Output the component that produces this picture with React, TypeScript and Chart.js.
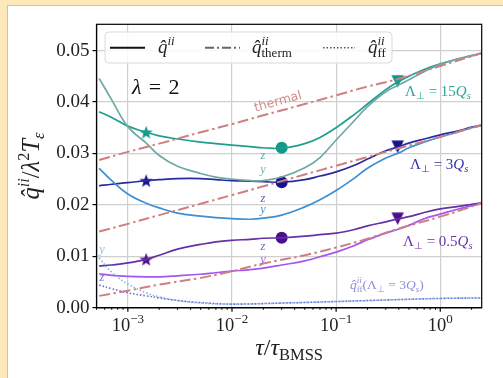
import React, { useEffect, useRef } from 'react';
import { Chart, registerables } from 'chart.js';
Chart.register(...registerables);

// ---------------- data ----------------
const TAU = [5.3e-4, 7e-4, 1e-3, 1.5e-3, 2e-3, 3e-3, 5e-3, 7e-3, 1e-2, 1.5e-2, 2e-2, 3e-2, 5e-2, 7e-2, 0.1, 0.15, 0.2, 0.3, 0.4, 0.5, 0.7, 1, 1.5, 2, 2.5];
const Q15_Z = [0.0381, 0.0370, 0.0353, 0.0341, 0.0334, 0.0328, 0.0322, 0.0319, 0.0316, 0.0313, 0.0311, 0.0310, 0.0319, 0.0331, 0.0350, 0.0376, 0.0396, 0.0424, 0.0440, 0.0450, 0.0463, 0.0474, 0.0484, 0.0490, 0.0495];
const Q15_Y = [0.0446, 0.0404, 0.0352, 0.0320, 0.0296, 0.0275, 0.0261, 0.0254, 0.0250, 0.0247, 0.0247, 0.0254, 0.0272, 0.0292, 0.0326, 0.0364, 0.0391, 0.0420, 0.0433, 0.0443, 0.0459, 0.0473, 0.0484, 0.0490, 0.0495];
const Q3_Z = [0.0237, 0.0240, 0.0243, 0.0247, 0.0249, 0.0251, 0.0251, 0.0249, 0.0247, 0.0246, 0.0245, 0.0244, 0.0249, 0.0256, 0.0264, 0.0277, 0.0289, 0.0305, 0.0313, 0.0320, 0.0328, 0.0336, 0.0344, 0.0351, 0.0355];
const Q3_Y = [0.0271, 0.0247, 0.0221, 0.0203, 0.0194, 0.0184, 0.0178, 0.0175, 0.0173, 0.0172, 0.0174, 0.0180, 0.0196, 0.0210, 0.0228, 0.0252, 0.0271, 0.0291, 0.0301, 0.0311, 0.0322, 0.0332, 0.0342, 0.0350, 0.0354];
const Q05_Z = [0.0081, 0.0083, 0.0087, 0.0094, 0.0102, 0.0114, 0.0123, 0.0128, 0.0131, 0.0133, 0.0135, 0.0136, 0.0139, 0.0142, 0.0145, 0.0152, 0.0159, 0.0167, 0.0173, 0.0177, 0.0185, 0.0192, 0.0197, 0.0201, 0.0204];
const Q05_Y = [0.0066, 0.0063, 0.0061, 0.0060, 0.0060, 0.0062, 0.0065, 0.0068, 0.0071, 0.0074, 0.0077, 0.0083, 0.0091, 0.0099, 0.0108, 0.0121, 0.0132, 0.0145, 0.0153, 0.0160, 0.0173, 0.0182, 0.0192, 0.0198, 0.0203];

const TAU_TH = [5.3e-4, 1e-3, 2e-3, 5e-3, 1e-2, 2e-2, 5e-2, 0.1, 0.2, 0.4, 1, 2.5];
const TH_15 = [0.0287, 0.0303, 0.0319, 0.0341, 0.0357, 0.0374, 0.0396, 0.0413, 0.0430, 0.0445, 0.0470, 0.0495];
const TH_3 = [0.0148, 0.0163, 0.0180, 0.0202, 0.0219, 0.0236, 0.0259, 0.0276, 0.0293, 0.0310, 0.0332, 0.0355];
const TH_05 = [0.0023, 0.0033, 0.0045, 0.0058, 0.0071, 0.0086, 0.0102, 0.0117, 0.0134, 0.0154, 0.0177, 0.0203];

const TAU_FF = [5.3e-4, 7e-4, 1e-3, 1.5e-3, 2e-3, 3e-3, 5e-3, 1e-2, 3e-2, 0.1, 0.3, 1, 2.5];
const FF_Y = [0.0097, 0.0069, 0.0046, 0.0029, 0.0021, 0.0014, 0.0009, 0.0007, 0.0009, 0.0012, 0.0015, 0.0018, 0.0019];
const FF_Z = [0.0044, 0.0037, 0.0029, 0.0023, 0.0019, 0.0014, 0.0010, 0.0007, 0.0009, 0.0012, 0.0015, 0.0018, 0.0019];

const STAR_X = 1.5e-3;
const STAR_Y = [0.0341, 0.0247, 0.0094];
const CIRC_X = 0.03;
const CIRC_Y = [0.0311, 0.0244, 0.0136];
const TRI_X = 0.39;
const TRI_Y = [0.0440, 0.0313, 0.0173];

const X_MIN = 5e-4;
const X_MAX = 2.5;
const Y_MAX = 0.0551;
const X_MAJOR_EXP = [-3, -2, -1, 0];
const Y_STEP = 0.01;

// ---------------- styles ----------------
const SERIF = '"Liberation Serif", "Times New Roman", serif';
const SANS = '"DejaVu Sans", sans-serif';
const C_TEAL_Z = '#1f9e8f';
const C_TEAL_Y = '#6fa9a6';
const C_NAVY_Z = '#2b2b9f';
const C_BLUE_Y = '#3d8fd1';
const C_PURP_Z = '#6631a6';
const C_VIOL_Y = '#a257ee';
const C_THERM = '#cf8080';
const C_FF_Y = '#7fb6e8';
const C_FF_Z = '#6a6ad2';
const M_COLORS = ['#12978a', '#16128c', '#4c0f8c'];

type Seg = { t: string; s: number; dy?: number; it?: boolean; stay?: boolean; fam?: string };

function fontOf(s: Seg) {
  return `${s.it ? 'italic ' : ''}${s.s}px ${s.fam || SERIF}`;
}

function layoutRich(ctx: CanvasRenderingContext2D, segs: Seg[]) {
  const out: { s: Seg; x: number }[] = [];
  let x = 0;
  let pending = 0;
  for (const s of segs) {
    ctx.font = fontOf(s);
    const w = ctx.measureText(s.t).width;
    out.push({ s, x });
    if (s.stay) pending = Math.max(pending, w);
    else {
      x += Math.max(w, pending);
      pending = 0;
    }
  }
  return { out, width: x };
}

function drawRich(ctx: CanvasRenderingContext2D, segs: Seg[], x: number, y: number, align: string, color: string) {
  const { out, width } = layoutRich(ctx, segs);
  const x0 = align === 'left' ? x : align === 'center' ? x - width / 2 : x - width;
  ctx.fillStyle = color;
  ctx.textBaseline = 'alphabetic';
  ctx.textAlign = 'left';
  for (const o of out) {
    ctx.font = fontOf(o.s);
    ctx.fillText(o.s.t, x0 + o.x, y + (o.s.dy || 0));
  }
}

function makeStar(color: string, r: number) {
  const c = document.createElement('canvas');
  const s = Math.ceil(r * 2 + 2);
  c.width = s;
  c.height = s;
  const g = c.getContext('2d')!;
  g.fillStyle = color;
  g.beginPath();
  for (let i = 0; i < 10; i++) {
    const rad = i % 2 === 0 ? r : r * 0.42;
    const a = -Math.PI / 2 + (i * Math.PI) / 5;
    g.lineTo(s / 2 + rad * Math.cos(a), s / 2 + 0.6 + rad * Math.sin(a));
  }
  g.closePath();
  g.fill();
  return c;
}

function makeTriDown(color: string, size: number) {
  const c = document.createElement('canvas');
  const s = Math.ceil(size + 2);
  c.width = s;
  c.height = s;
  const g = c.getContext('2d')!;
  g.fillStyle = color;
  g.beginPath();
  g.moveTo(s / 2 - size / 2, s / 2 - size / 2);
  g.lineTo(s / 2 + size / 2, s / 2 - size / 2);
  g.lineTo(s / 2, s / 2 + size / 2);
  g.closePath();
  g.fill();
  return c;
}

const isPow10 = (v: number) => Math.abs(Math.log10(v) - Math.round(Math.log10(v))) < 1e-6;

function xTickValues() {
  const out: number[] = [];
  for (let e = -4; e <= 0; e++) {
    for (let m = 1; m <= 9; m++) {
      const v = parseFloat((m * Math.pow(10, e)).toPrecision(6));
      if (v >= X_MIN && v <= X_MAX) out.push(v);
    }
  }
  return out;
}

const qhat: Seg = { t: 'q\u0302', s: 19, it: true };

const decor = {
  id: 'decor',
  afterDatasetsDraw(chart: any) {
    const { ctx, chartArea: a, scales } = chart;
    const xs = scales.x;
    ctx.save();
    // spines
    ctx.strokeStyle = '#000';
    ctx.lineWidth = 1.2;
    ctx.strokeRect(a.left, a.top, a.right - a.left, a.bottom - a.top);
    // x tick marks
    for (const t of xs.ticks) {
      const px = xs.getPixelForValue(t.value);
      const major = isPow10(t.value);
      ctx.lineWidth = major ? 1.2 : 0.9;
      ctx.beginPath();
      ctx.moveTo(px, a.bottom);
      ctx.lineTo(px, a.bottom + (major ? 4 : 2.2));
      ctx.stroke();
    }
    // x tick labels
    for (const e of X_MAJOR_EXP) {
      const px = xs.getPixelForValue(Math.pow(10, e));
      const exp = e < 0 ? '\u2212' + Math.abs(e) : String(e);
      drawRich(ctx, [{ t: '10', s: 18.5 }, { t: exp, s: 13, dy: -8 }], px, 331, 'center', '#222');
    }
    // axis labels
    drawRich(ctx, [{ t: '\u03c4', s: 24, it: true }, { t: '/', s: 24 }, { t: '\u03c4', s: 24, it: true }, { t: 'BMSS', s: 16.5, dy: 5 }], (a.left + a.right) / 2, 355, 'center', '#222');
    ctx.save();
    ctx.translate(39, (a.top + a.bottom) / 2);
    ctx.rotate(-Math.PI / 2);
    drawRich(ctx, [
      { t: 'q\u0302', s: 24.5, it: true }, { t: 'ii', s: 16.5, it: true, dy: -10 },
      { t: '/', s: 24.5 }, { t: '\u03bb', s: 24.5, it: true }, { t: '2', s: 16.5, dy: -10 },
      { t: 'T', s: 24.5, it: true }, { t: '\u03b5', s: 16.5, it: true, dy: 5 },
    ], 0, 0, 'center', '#222');
    ctx.restore();

    // lambda text
    drawRich(ctx, [{ t: '\u03bb', s: 22, it: true }, { t: '\u2004=\u20042', s: 22 }], 132, 94, 'left', '#111');

    // thermal
    ctx.save();
    ctx.translate(278, 102);
    ctx.rotate(-15.6 * Math.PI / 180);
    ctx.font = `12.5px ${SANS}`;
    ctx.fillStyle = '#d08a8a';
    ctx.textAlign = 'center';
    ctx.textBaseline = 'middle';
    ctx.fillText('thermal', 0, 0);
    ctx.restore();

    // Lambda labels
    const lam = (val: string): Seg[] => [
      { t: '\u039b', s: 15 }, { t: '\u22a5', s: 10, dy: 3 }, { t: ' = ' + val, s: 15 },
      { t: 'Q', s: 15, it: true }, { t: 's', s: 10.5, it: true, dy: 3 },
    ];
    drawRich(ctx, lam('15'), 405, 96, 'left', '#2aa598');
    drawRich(ctx, lam('3'), 410, 169, 'left', '#3232a8');
    drawRich(ctx, lam('0.5'), 403, 246, 'left', '#6a34a8');
    drawRich(ctx, [
      { t: 'q\u0302', s: 13.5, it: true }, { t: 'ii', s: 9, it: true, dy: -6, stay: true }, { t: 'ff', s: 9, dy: 3 },
      { t: '(\u039b', s: 13.5 }, { t: '\u22a5', s: 9, dy: 3 }, { t: ' = 3', s: 13.5 },
      { t: 'Q', s: 13.5, it: true }, { t: 's', s: 9, it: true, dy: 3 }, { t: ')', s: 13.5 },
    ], 350, 289, 'left', '#8c8cdc');

    // small component labels
    const small = (t: string, x: number, y: number, c: string) => drawRich(ctx, [{ t, s: 12.5, it: true }], x, y, 'center', c);
    small('z', 263, 159, '#5aa9a0');
    small('y', 263, 173, '#7ab0ae');
    small('z', 263, 202, '#5a5abb');
    small('y', 263, 213, '#4a94d4');
    small('z', 263, 250, '#8a58c0');
    small('y', 263, 263, '#a864f0');
    small('y', 102, 253, '#8cc0ea');
    small('z', 102, 281, '#7878d4');

    // legend
    const lx = 105, ly = 32, lw = 287, lh = 31;
    ctx.beginPath();
    ctx.roundRect(lx, ly, lw, lh, 4);
    ctx.fillStyle = 'rgba(255,255,255,0.85)';
    ctx.fill();
    ctx.strokeStyle = '#d9d9d9';
    ctx.lineWidth = 1;
    ctx.stroke();
    const yy = 47.7;
    const seg = (x1: number, x2: number, color: string, w: number, dash: number[]) => {
      ctx.beginPath();
      ctx.setLineDash(dash);
      ctx.strokeStyle = color;
      ctx.lineWidth = w;
      ctx.moveTo(x1, yy);
      ctx.lineTo(x2, yy);
      ctx.stroke();
      ctx.setLineDash([]);
    };
    seg(110, 145, '#111', 2, []);
    seg(205, 240, '#666', 2, [9, 3, 2, 3]);
    seg(323, 355, '#555', 1.6, [1.5, 2]);
    drawRich(ctx, [qhat, { t: 'ii', s: 13, it: true, dy: -8 }], 158, 53, 'left', '#222');
    drawRich(ctx, [qhat, { t: 'ii', s: 13, it: true, dy: -8, stay: true }, { t: 'therm', s: 13, dy: 4 }], 252, 53, 'left', '#222');
    drawRich(ctx, [qhat, { t: 'ii', s: 13, it: true, dy: -8, stay: true }, { t: 'ff', s: 13, dy: 4 }], 368, 53, 'left', '#222');
    ctx.restore();
  },
};

export default function App() {
  const ref = useRef<HTMLCanvasElement>(null);
  useEffect(() => {
    const canvas = ref.current!;
    const pts = (xs: number[], ys: number[]) => xs.map((x, i) => ({ x, y: ys[i] }));
    const line = (xs: number[], ys: number[], color: string, width: number, dash: number[] = []) => ({
      data: pts(xs, ys),
      borderColor: color,
      backgroundColor: color,
      borderWidth: width,
      borderDash: dash,
      pointRadius: 0,
      pointHoverRadius: 0,
      tension: 0.4,
      fill: false,
    });
    const marker = (x: number, y: number, style: any, color: string, r = 6) => ({
      data: [{ x, y }],
      showLine: false,
      pointStyle: style,
      pointRadius: r,
      pointHoverRadius: r,
      pointBorderWidth: 0,
      borderWidth: 0,
      backgroundColor: color,
      borderColor: color,
    });
    const thDash = [11, 3.5, 2.5, 3.5];
    const datasets: any[] = [
      line(TAU_TH, TH_15, C_THERM, 2, thDash),
      line(TAU_TH, TH_3, C_THERM, 2, thDash),
      line(TAU_TH, TH_05, C_THERM, 2, thDash),
      line(TAU_FF, FF_Y, C_FF_Y, 1.6, [1.5, 2]),
      line(TAU_FF, FF_Z, C_FF_Z, 1.6, [1.5, 2]),
      line(TAU, Q15_Y, C_TEAL_Y, 1.7),
      line(TAU, Q3_Y, C_BLUE_Y, 1.7),
      line(TAU, Q05_Y, C_VIOL_Y, 1.7),
      line(TAU, Q15_Z, C_TEAL_Z, 1.7),
      line(TAU, Q3_Z, C_NAVY_Z, 1.7),
      line(TAU, Q05_Z, C_PURP_Z, 1.7),
    ];
    STAR_Y.forEach((y, i) => datasets.push(marker(STAR_X, y, makeStar(M_COLORS[i], 7), M_COLORS[i])));
    CIRC_Y.forEach((y, i) => datasets.push(marker(CIRC_X, y, 'circle', M_COLORS[i], 6)));
    TRI_Y.forEach((y, i) => datasets.push(marker(TRI_X, y, makeTriDown(M_COLORS[i], 12.5), M_COLORS[i])));

    const chart = new Chart(canvas, {
      type: 'line',
      data: { datasets },
      options: {
        animation: false,
        responsive: false,
        devicePixelRatio: 1,
        events: [],
        layout: { padding: { left: 0, top: 24.3, right: 21.3, bottom: 0 } },
        plugins: { legend: { display: false }, tooltip: { enabled: false } },
        scales: {
          x: {
            type: 'logarithmic',
            min: X_MIN,
            max: X_MAX,
            afterFit: (s: any) => { s.height = 70.3; },
            afterBuildTicks: (s: any) => { s.ticks = xTickValues().map((v) => ({ value: v })); },
            ticks: { display: false },
            grid: {
              color: (c: any) => (c.tick && isPow10(c.tick.value) ? '#cfcfcf' : 'rgba(0,0,0,0)'),
              lineWidth: 1.2,
              drawTicks: false,
            },
            border: { color: '#000', width: 1.2 },
          },
          y: {
            type: 'linear',
            min: 0,
            max: Y_MAX,
            afterFit: (s: any) => { s.width = 96.5; },
            ticks: {
              stepSize: Y_STEP,
              includeBounds: false,
              callback: (v: any) => Number(v).toFixed(2),
              font: { family: SERIF, size: 19 },
              color: '#222',
              padding: 3,
            },
            grid: { color: '#cfcfcf', lineWidth: 1.2, tickLength: 4, tickColor: '#000', tickWidth: 1.2 },
            border: { color: '#000', width: 1.2 },
          },
        },
      } as any,
      plugins: [decor],
    });
    return () => chart.destroy();
  }, []);

  return (
    <div style={{ position: 'fixed', left: 0, top: 0, width: 503, height: 378, background: '#fde8b9', overflow: 'hidden' }}>
      <div style={{ position: 'absolute', left: 7, top: 5, right: 0, bottom: 0, background: '#fff', borderLeft: '1px solid #c9c3b0', borderTop: '1px solid #c9c3b0' }} />
      <canvas ref={ref} width={503} height={378} style={{ position: 'absolute', left: 0, top: 0 }} />
    </div>
  );
}
